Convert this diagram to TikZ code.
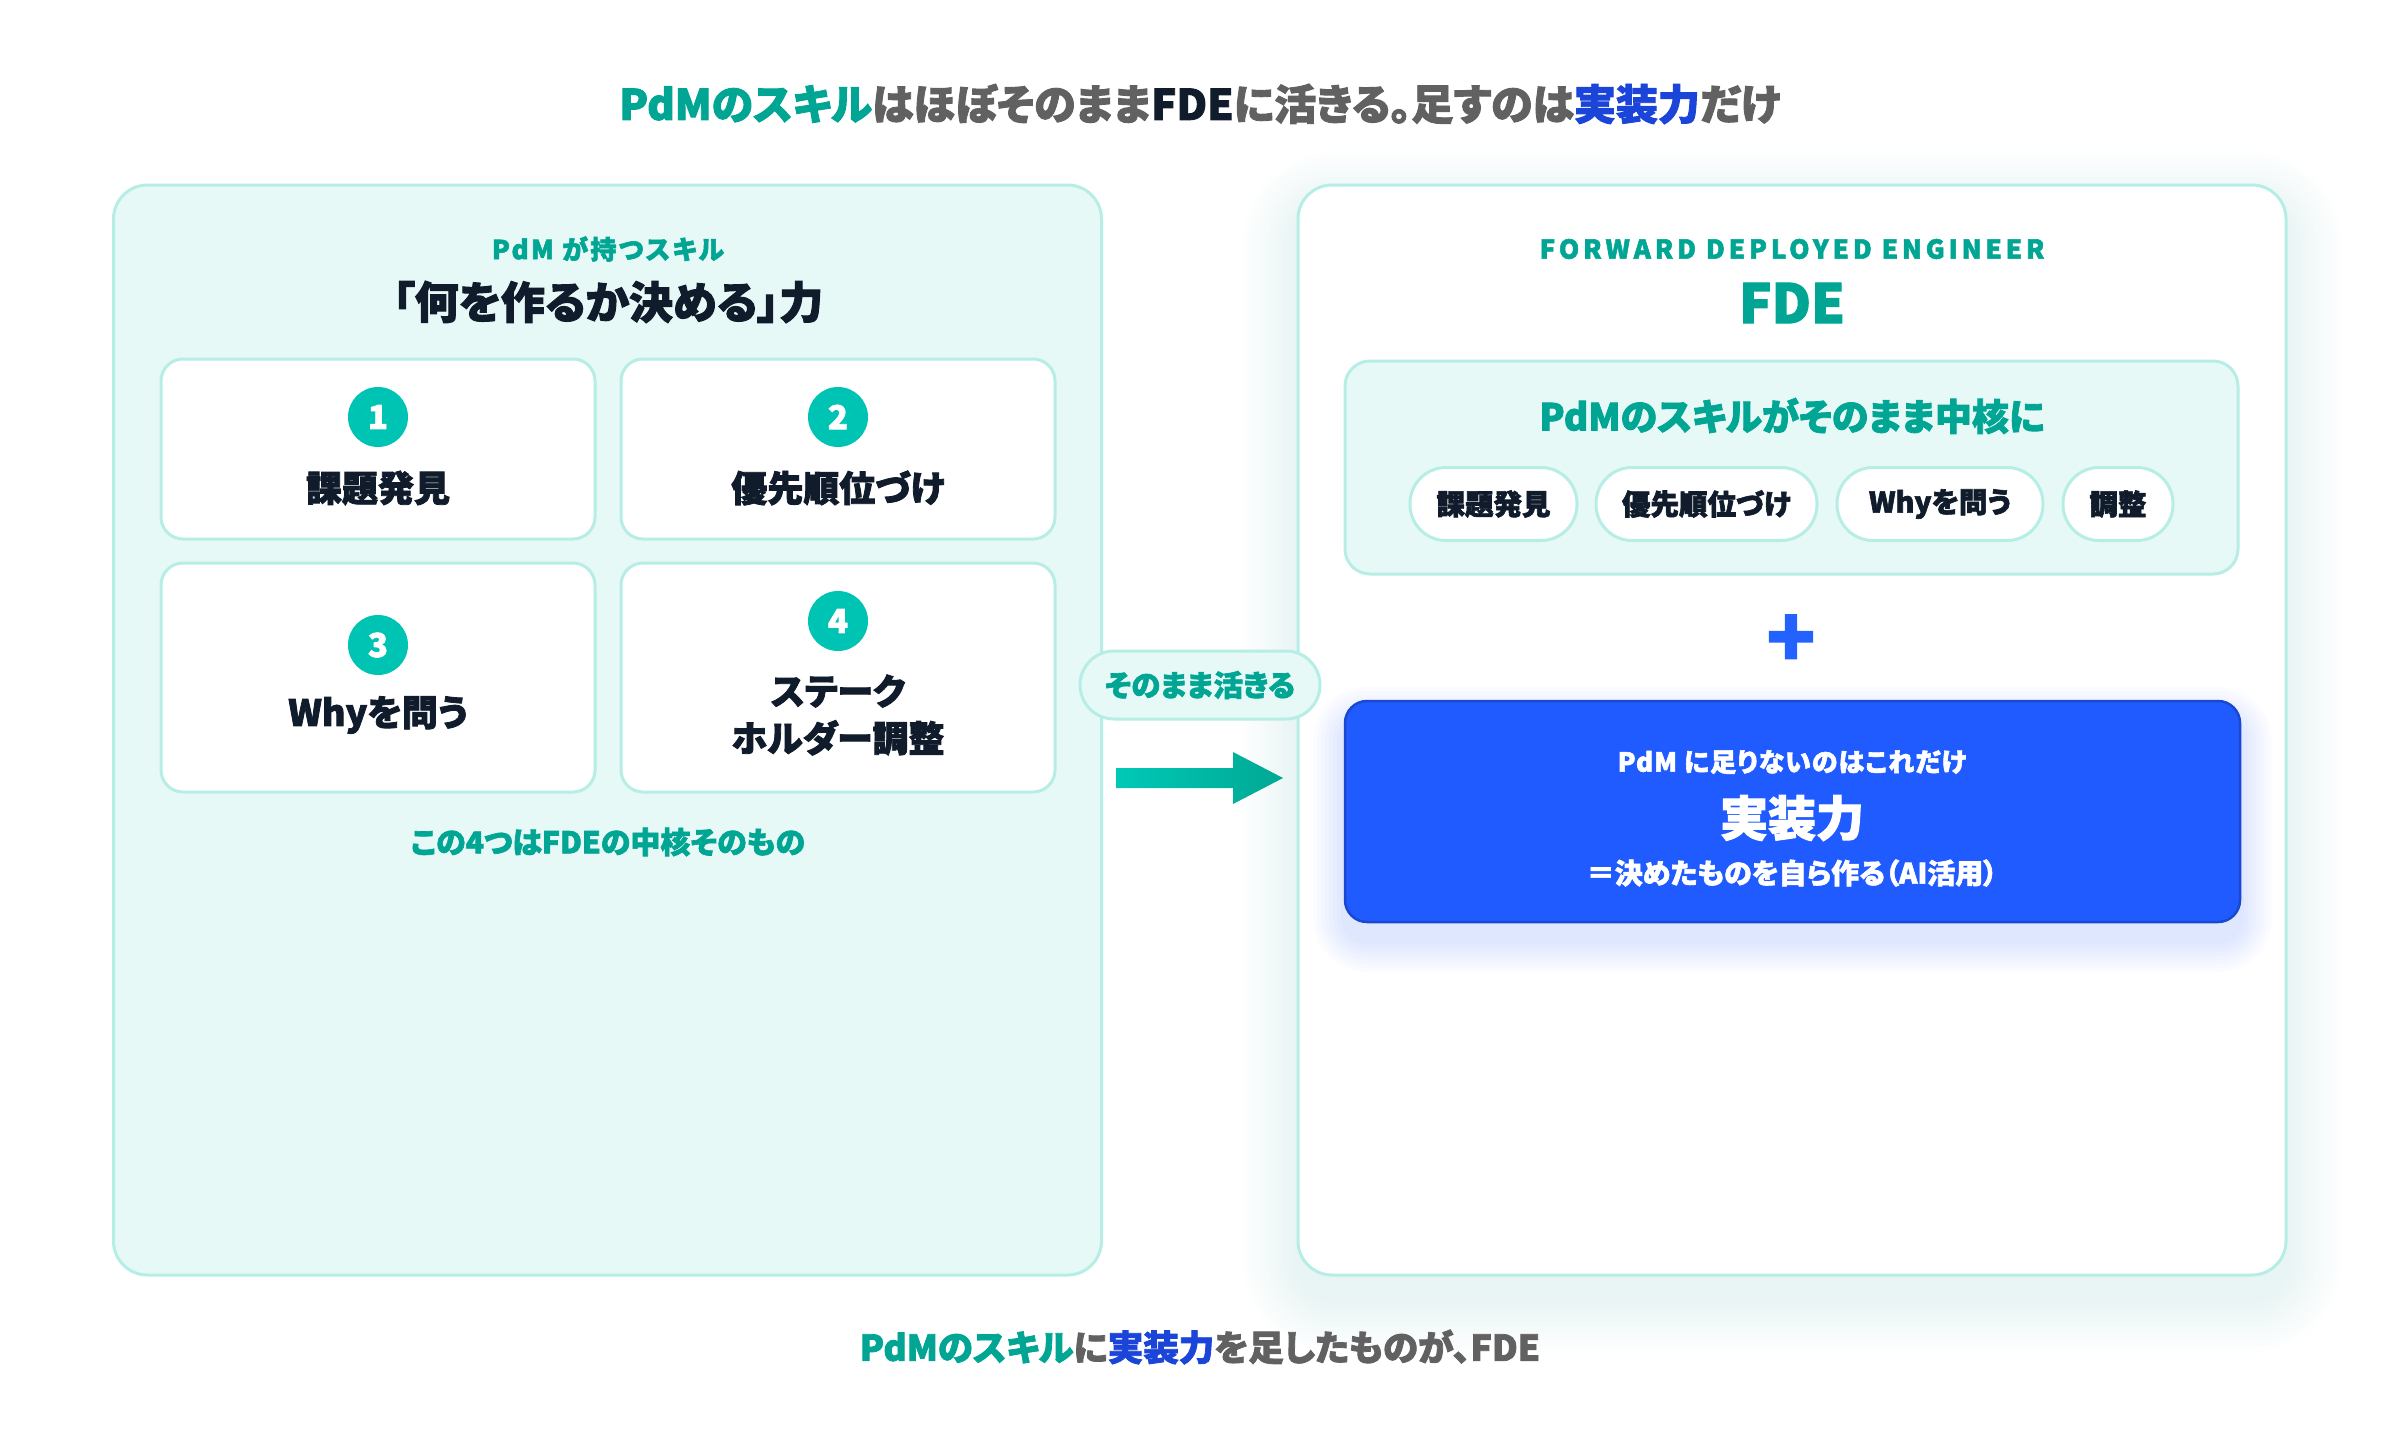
\documentclass[tikz,border=0pt]{standalone}
\usepackage{fontspec}
\setmainfont{Noto Sans CJK JP}[RawFeature=+palt, BoldFeatures={FakeBold=2.2}]
\definecolor{tealtxt}{HTML}{00A693}
\definecolor{tealc}{HTML}{00C4B3}
\definecolor{tealbd}{HTML}{B6EEE6}
\definecolor{tealbg}{HTML}{E7F9F6}
\definecolor{ink}{HTML}{101B2B}
\definecolor{graytxt}{HTML}{616161}
\definecolor{bluetxt}{HTML}{1B45D9}
\definecolor{bluebox}{HTML}{1F5BFF}
\definecolor{bluebd}{HTML}{1A48CF}
\definecolor{pluscol}{HTML}{2462FF}
\definecolor{glowteal}{HTML}{2CC9B6}
\definecolor{arrowA}{HTML}{00C9B6}
\definecolor{arrowB}{HTML}{00A894}
\newcommand\fsz[2]{\fontsize{#1}{#2}\selectfont}
\begin{document}
\begin{tikzpicture}[x=1pt,y=-1pt,
  panel/.style={draw=tealbd, line width=3, rounded corners=34, inner sep=0, minimum width=988, minimum height=1090},
  card/.style={draw=tealbd, fill=white, line width=3, rounded corners=22, minimum width=434, inner sep=0},
  numdot/.style={circle, fill=tealc, minimum size=60, inner sep=0, text=white, font=\fsz{33}{36}\bfseries},
  cardtext/.style={text=ink, font=\fsz{36}{47}\bfseries, align=center, inner sep=0},
  pill/.style={draw=tealbd, fill=white, line width=3, rounded corners=36, minimum height=73, inner sep=0, text=ink, font=\fsz{28.5}{30}\bfseries},
  label/.style={inner sep=0, align=center}
]
\useasboundingbox (0,0) rectangle (2400,1440);
\fill[white] (0,0) rectangle (2400,1440);

% title
\node[label, font=\fsz{42}{48}\bfseries] (title) at (1200,104)
  {\textcolor{tealtxt}{PdMのスキル}\textcolor{graytxt}{はほぼそのまま}\textcolor{ink}{FDE}\textcolor{graytxt}{に活きる。足すのは}\textcolor{bluetxt}{実装力}\textcolor{graytxt}{だけ}};

% right panel glow
\foreach \i in {1,...,11}{
  \fill[glowteal, opacity=0.008, rounded corners={34+5*\i}] ({1298-5*\i},{185+22-5*\i}) rectangle ({2286+5*\i},{1275+22+5*\i});
}

% panels
\node[panel, fill=tealbg] (left) at (607.5,730) {};
\node[panel, fill=white] (right) at (1792,730) {};

% left panel content
\node[label, text=tealtxt, font=\fsz{26}{30}\bfseries\addfontfeatures{LetterSpace=9}] (lsub) at (608,249) {PdM が持つスキル};
\node[label, text=ink, font=\fsz{44}{50}\bfseries] (lhead) at (608,302) {「何を作るか決める」力};

\node[card, minimum height=180] (c1) at (378,449) {};
\node[card, minimum height=180] (c2) at (838,449) {};
\node[card, minimum height=229] (c3) at (378,677.5) {};
\node[card, minimum height=229] (c4) at (838,677.5) {};

\node[numdot] (n1) at (378,417) {1};
\node[numdot] (n2) at (838,417) {2};
\node[numdot] (n3) at (378,645) {3};
\node[numdot] (n4) at (838,621) {4};

\node[cardtext] (t1) at (378,488) {課題発見};
\node[cardtext] (t2) at (838,488) {優先順位づけ};
\node[cardtext] (t3) at (378,715) {Whyを問う};
\node[cardtext] (t4) at (838,715) {ステーク\\ホルダー調整};

\node[label, text=tealtxt, font=\fsz{30}{34}\bfseries] (lfoot) at (608,842) {この4つはFDEの中核そのもの};

% right panel content
\node[label, text=tealtxt, font=\fsz{26}{30}\bfseries\addfontfeatures{LetterSpace=15}] (rsub) at (1792,249) {FORWARD DEPLOYED ENGINEER};
\node[label, text=tealtxt, font=\fsz{54}{60}\bfseries] (fde) at (1792,303) {FDE};

\node[draw=tealbd, fill=tealbg, line width=3, rounded corners=25, minimum width=893, minimum height=213, inner sep=0] (core) at (1791.5,467.5) {};
\node[label, text=tealtxt, font=\fsz{37}{42}\bfseries] (corehead) at (1792,416) {PdMのスキルがそのまま中核に};
\node[pill, minimum width=167] (p1) at (1493.5,504) {課題発見};
\node[pill, minimum width=221] (p2) at (1706.5,504) {優先順位づけ};
\node[pill, minimum width=206] (p3) at (1940,504) {Whyを問う};
\node[pill, minimum width=110] (p4) at (2118,504) {調整};

\node[label, text=pluscol, font=\fsz{80}{86}\bfseries] (plus) at (1791,641) {+};

% blue box shadow
\foreach \i in {1,...,8}{
  \fill[bluebox, opacity=0.016, rounded corners={22+4*\i}] ({1345-4*\i},{701+18-4*\i}) rectangle ({2240+4*\i},{922+18+4*\i});
}
\node[draw=bluebd, fill=bluebox, line width=2.5, rounded corners=22, minimum width=895, minimum height=221, inner sep=0] (impl) at (1792.5,811.5) {};
\node[label, text=white, font=\fsz{26}{30}\bfseries\addfontfeatures{LetterSpace=4}] (impl1) at (1792,762) {PdM に足りないのはこれだけ};
\node[label, text=white, font=\fsz{48}{54}\bfseries] (impl2) at (1792,818) {実装力};
\node[label, text=white, font=\fsz{28}{32}\bfseries] (impl3) at (1792,873) {＝決めたものを自ら作る（AI活用）};

% middle: pill and arrow
\node[draw=tealbd, fill=tealbg, line width=3, rounded corners=34, minimum width=240, minimum height=68, inner sep=0, text=tealtxt, font=\fsz{29.5}{32}\bfseries] (live) at (1200,685) {そのまま活きる};

\coordinate (a1) at (1116,768);
\coordinate (a2) at (1233,768);
\coordinate (a3) at (1233,752);
\coordinate (a4) at (1283,778);
\coordinate (a5) at (1233,804);
\coordinate (a6) at (1233,788);
\coordinate (a7) at (1116,788);
\shade[left color=arrowA, right color=arrowB] (a1) -- (a2) -- (a3) -- (a4) -- (a5) -- (a6) -- (a7) -- cycle;

% bottom
\node[label, font=\fsz{35.5}{40}\bfseries] (bottom) at (1200,1347)
  {\textcolor{tealtxt}{PdMのスキル}\textcolor{graytxt}{に}\textcolor{bluetxt}{実装力}\textcolor{graytxt}{を足したものが、FDE}};
\end{tikzpicture}
\end{document}
